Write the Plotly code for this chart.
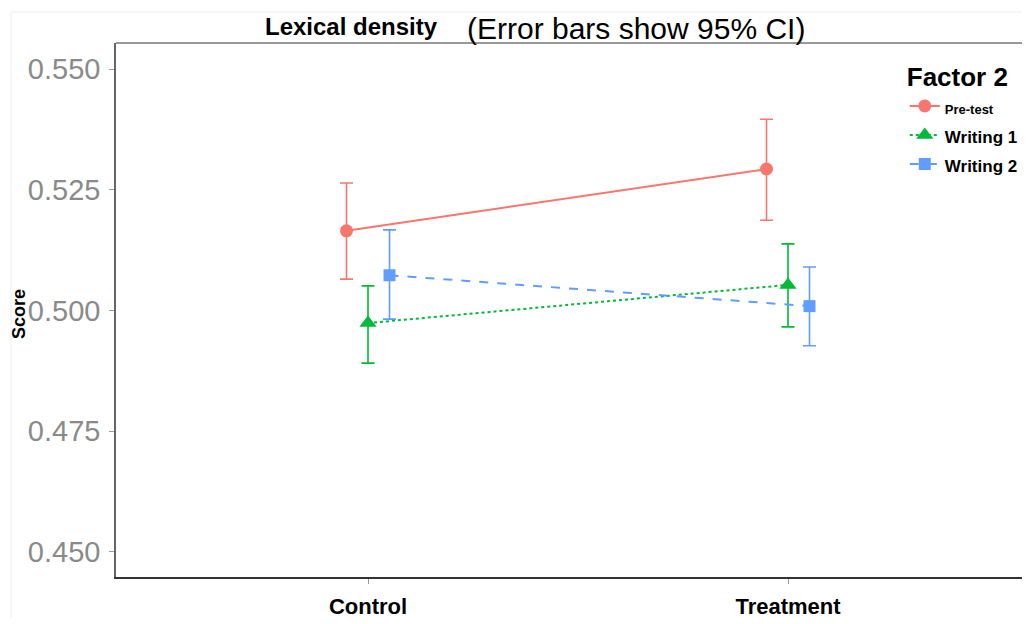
import plotly.graph_objects as go

groups = ["Control", "Treatment"]
series = ["Pre-test", "Writing 1", "Writing 2"]
means = {
    "Pre-test": [0.5165, 0.5293],
    "Writing 1": [0.4974, 0.5053],
    "Writing 2": [0.5073, 0.5009],
}
upper = {
    "Pre-test": [0.5264, 0.5396],
    "Writing 1": [0.5051, 0.5138],
    "Writing 2": [0.5167, 0.5090],
}
lower = {
    "Pre-test": [0.5065, 0.5187],
    "Writing 1": [0.4891, 0.4966],
    "Writing 2": [0.4982, 0.4927],
}
y_ticks = [0.450, 0.475, 0.500, 0.525, 0.550]

colors = {"Pre-test": "#F8766D", "Writing 1": "#00BA38", "Writing 2": "#619CFF"}
dashes = {"Pre-test": "solid", "Writing 1": "dot", "Writing 2": "dash"}
symbols = {"Pre-test": "circle", "Writing 1": "triangle-up", "Writing 2": "square"}
msize = {"Pre-test": 13, "Writing 1": 15, "Writing 2": 12}
offsets = {"Pre-test": -0.0512, "Writing 1": 0.0, "Writing 2": 0.0512}
legend_size = {"Pre-test": 13, "Writing 1": 17, "Writing 2": 17}

FONT = "Liberation Sans, Arial, Helvetica, sans-serif"

# page body has an 8px margin; plot area in the reference spans x 116..1030, y 43..577
W, H = 1022, 616
PL, PT, PB = 108, 35, 47
PW = W - PL
PH = H - PT - PB


def px(X):
    return (X - 116) / PW


def py(Y):
    return (577 - Y) / PH


fig = go.Figure()
for s in series:
    xs = [i + offsets[s] for i in range(len(groups))]
    fig.add_trace(go.Scatter(
        x=xs, y=means[s], mode="lines+markers",
        name=f"<span style='font-size:{legend_size[s]}px'><b>{s}</b></span>",
        line=dict(color=colors[s], width=2, dash=dashes[s]),
        marker=dict(symbol=symbols[s], size=msize[s], color=colors[s]),
        error_y=dict(
            type="data", symmetric=False,
            array=[u - m for u, m in zip(upper[s], means[s])],
            arrayminus=[m - l for m, l in zip(means[s], lower[s])],
            color=colors[s], thickness=1.6, width=6.5,
        ),
    ))

fig.update_layout(
    width=W, height=H,
    margin=dict(l=PL, r=0, t=PT, b=PB),
    paper_bgcolor="white", plot_bgcolor="white",
    font=dict(family=FONT, color="#000000"),
    showlegend=True,
    legend=dict(
        x=0.863, y=0.982, xanchor="left", yanchor="top",
        bgcolor="rgba(0,0,0,0)",
        title=dict(text="<b>Factor 2</b>", font=dict(size=26, family=FONT, color="#000")),
        font=dict(size=20, family=FONT, color="#000"),
        itemwidth=30,
    ),
    xaxis=dict(
        range=[-0.6, -0.6 + PW / 420],
        tickmode="array", tickvals=[0, 1],
        ticktext=[f"<b>{g}</b>" for g in groups],
        tickfont=dict(size=22, family=FONT, color="#000"),
        showgrid=False, zeroline=False,
        showline=True, linecolor="#333333", linewidth=2,
        ticks="outside", ticklen=5, tickcolor="#999999", tickwidth=1,
        ticklabelstandoff=4,
    ),
    yaxis=dict(
        range=[0.4448, 0.5554],
        tickmode="array", tickvals=y_ticks,
        ticktext=[f"{v:.3f}" for v in y_ticks],
        tickfont=dict(size=29, family=FONT, color="#8a8a8a"),
        showgrid=False, zeroline=False,
        showline=True, linecolor="#666666", linewidth=1.5,
        ticks="outside", ticklen=5, tickcolor="#999999", tickwidth=1,
        ticklabelstandoff=3,
    ),
    shapes=[
        dict(type="line", xref="paper", yref="paper", x0=0, x1=1, y0=1, y1=1,
             line=dict(color="#777777", width=1.5)),
        dict(type="line", xref="paper", yref="paper",
             x0=px(11), x1=px(11), y0=py(12), y1=py(618),
             line=dict(color="#eeeeee", width=1)),
        dict(type="line", xref="paper", yref="paper",
             x0=px(11), x1=1, y0=py(12), y1=py(12),
             line=dict(color="#eeeeee", width=1)),
    ],
    annotations=[
        dict(text="<b>Lexical density</b>", xref="paper", yref="paper",
             x=px(351), y=py(27), xanchor="center", yanchor="middle",
             showarrow=False, font=dict(size=24, family=FONT, color="#000")),
        dict(text="(Error bars show 95% CI)", xref="paper", yref="paper",
             x=px(636), y=py(28), xanchor="center", yanchor="middle",
             showarrow=False, font=dict(size=30, family=FONT, color="#000")),
        dict(text="<b>Score</b>", xref="paper", yref="paper",
             x=px(19), y=py(314), xanchor="center", yanchor="middle",
             textangle=-90, showarrow=False,
             font=dict(size=18, family=FONT, color="#000")),
    ],
)

fig.write_html("out.html")
